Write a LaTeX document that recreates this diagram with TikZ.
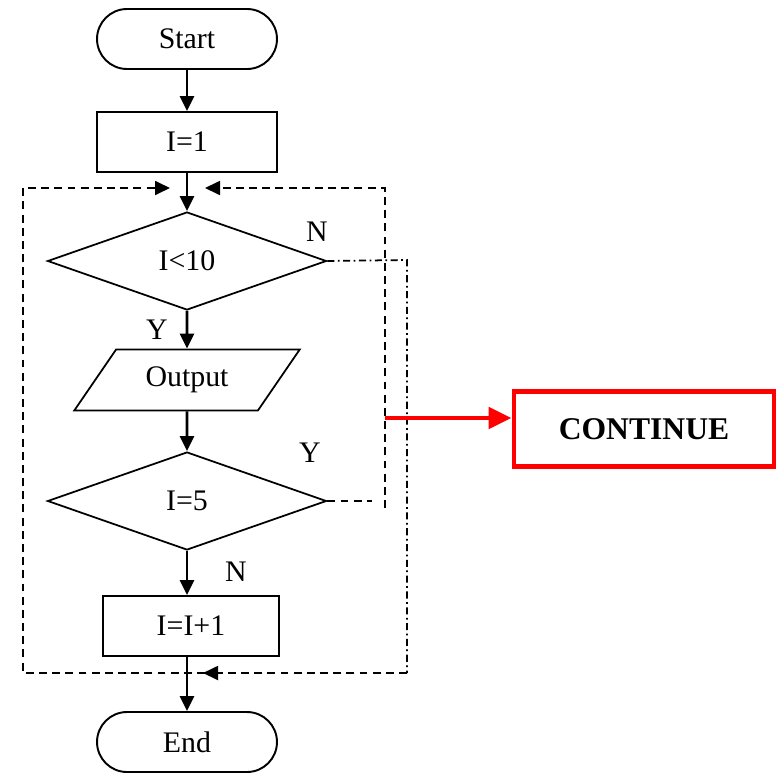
\documentclass[tikz,border=0pt]{standalone}
\usepackage{fontspec}
\setmainfont{Liberation Serif}
\usetikzlibrary{arrows.meta,shapes.geometric}

\begin{document}
\begin{tikzpicture}[x=0.02cm, y=-0.02cm, font=\fontsize{17}{20}\selectfont,
    box/.style={draw, line width=1.1pt, minimum width=3.6cm, minimum height=1.2cm},
    term/.style={box, rounded corners=0.6cm},
    cond/.style={draw, diamond, line width=1pt, aspect=2.85, minimum width=5.58cm, minimum height=1.96cm, inner sep=0pt},
    io/.style={draw, trapezium, trapezium left angle=53.6, trapezium right angle=126.4,
        trapezium stretches=true, line width=1pt, minimum width=4.54cm, minimum height=1.22cm},
    arr/.style={line width=1.6pt, -{Triangle[length=0.3cm, width=0.28cm]}},
    loopline/.style={line width=1pt, dash pattern=on 4.5pt off 3pt},
    dotline/.style={line width=1pt, dash pattern=on 4pt off 2pt on 1pt off 2pt},
    tip/.style={-{Triangle[length=0.3cm, width=0.28cm]}}]
    \useasboundingbox (0,0) rectangle (783,774);

    % main column
    \node[term] (start) at (187,39) {Start};
    \node[box] (init) at (187,142) {I=1};
    \node[cond] (test) at (187,261) {I<10};
    \node[io] (out) at (187,380) {Output};
    \node[cond] (five) at (187,501) {I=5};
    \node[box, minimum width=3.52cm] (inc) at (191,626) {I=I+1};
    \node[term] (end) at (187,742) {End};

    \draw[arr] (start) -- (init);
    \draw[arr] (init) -- (test);
    \draw[arr] (test) -- (out);
    \draw[arr] (out) -- (five);
    \draw[arr] (five.south) -- (five.south |- inc.north);
    \draw[arr] (inc.south -| end.north) -- (end);

    % branch labels
    \node (n1) at (317,232) {N};
    \node (y1) at (157,330) {Y};
    \node (y2) at (310,453) {Y};
    \node (n2) at (236,572) {N};

    % loop back
    \coordinate (tr) at (385,188);
    \coordinate (tl) at (23,188);
    \coordinate (bl) at (23,673);
    \coordinate (br) at (407,673);
    \draw[loopline, tip] (385,508) -- (tr) -- (205,188);
    \draw[loopline] (five.east) -- ++(45,0);
    \draw[dotline] (test.east) -- (407,260) -- (br);
    \draw[loopline, tip] (br) -- (203,673);
    \draw[loopline, tip] (205,673) -- (bl) -- (tl) -- (170,188);

    % continue
    \node[draw=red, line width=2.8pt, minimum width=5.2cm, minimum height=1.5cm,
        font=\fontsize{18}{20}\selectfont\bfseries] (cont) at (644,429) {CONTINUE};
    \draw[red, line width=2.8pt, -{Triangle[length=0.46cm, width=0.42cm]}] (385,418) -- (cont.west |- 385,418);
\end{tikzpicture}
\end{document}
